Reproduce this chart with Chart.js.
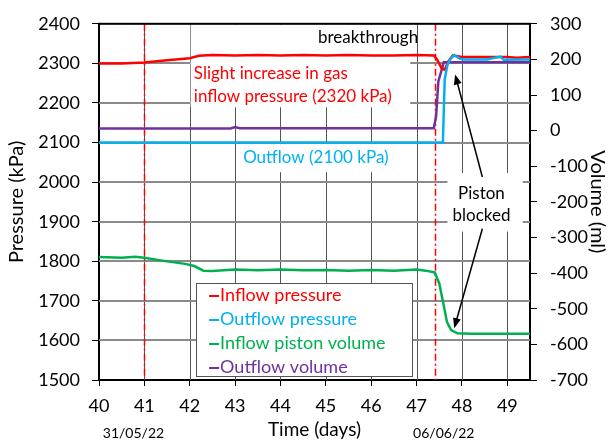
<!DOCTYPE html>
<html>
<head>
<meta charset="utf-8">
<script src="https://cdn.jsdelivr.net/npm/chart.js@4"></script>
<style>
    body { margin: 0; background: #fff; }
    canvas { display: block; }
</style>
</head>
<body>
<canvas id="pressureChart" width="609" height="442"></canvas>
<script>
// Inflow pressure (kPa)
let inflowDays = [40, 40.5, 41, 41.5, 42, 42.2, 42.5, 43, 43.5, 44, 44.5, 45, 45.5, 46, 46.5, 47, 47.38, 47.45, 47.55, 47.62, 47.7, 47.8, 48, 48.5, 49, 49.2, 49.5];
let inflowPressure = [2300, 2300, 2302, 2308, 2313, 2319, 2321, 2320, 2321, 2320, 2321, 2320, 2321, 2320, 2320, 2321, 2320, 2310, 2288, 2284, 2305, 2320, 2316, 2316, 2316, 2314, 2316];

// Outflow pressure (kPa)
let outflowDays = [40, 47.58, 47.62, 47.68, 47.75, 47.83, 47.95, 48.05, 48.55, 48.85, 48.92, 49.5];
let outflowPressure = [2100, 2100, 2260, 2296, 2312, 2321, 2312, 2310, 2310, 2317, 2309, 2310];

// Inflow piston volume (ml)
let pistonDays = [40, 40.5, 40.8, 41, 41.5, 41.9, 42.1, 42.3, 42.5, 43, 43.5, 44, 44.5, 45, 45.5, 46, 46.5, 47, 47.2, 47.4, 47.5, 47.59, 47.67, 47.76, 47.9, 48.2, 49.5];
let pistonVolume = [-355, -357, -354, -357, -367, -374, -380, -393, -394, -390, -392, -390, -392, -391, -393, -391, -393, -390, -393, -398, -429, -485, -537, -560, -569, -570, -570];

// Outflow volume (ml)
let outVolDays = [40, 42.9, 43, 43.1, 47.38, 47.43, 47.48, 47.6, 49.5];
let outflowVolume = [6, 6, 10, 7, 7, 40, 138, 192, 192];

let xTicks = [40, 41, 42, 43, 44, 45, 46, 47, 48, 49];
let gridKpa = [1600, 1700, 1800, 1900, 2000, 2100, 2200, 2300];
let markerDays = [41, 47.4];
let dateLabels = ["31/05/22", "06/06/22"];
let dateLabelDays = [40.76, 47.6];

let seriesNames = ["Inflow pressure", "Outflow pressure", "Inflow piston volume", "Outflow volume"];
let seriesColors = ["#ff0000", "#00b0f0", "#00b050", "#7030a0"];

const FONT = "Lato";
const GRID = "#555555";
const GRID_ROW = "#8a8a8a";

function pts(days, vals) {
    return days.map((d, i) => ({ x: d, y: vals[i] }));
}

function line(label, color, data, axis, order) {
    return {
        label: label,
        data: data,
        yAxisID: axis,
        borderColor: color,
        backgroundColor: color,
        borderWidth: 2.5,
        pointRadius: 0,
        tension: 0,
        fill: false,
        order: order
    };
}

// grid, text boxes, arrows, marker lines and the legend panel
const notes = {
    id: "notes",
    beforeDatasetsDraw(chart) {
        let ctx = chart.ctx;
        let area = chart.chartArea;
        let x = chart.scales.x, y = chart.scales.y;
        let px = d => x.getPixelForValue(d);
        let py = v => y.getPixelForValue(v);

        ctx.save();
        // grid at whole days and every 100 kPa
        ctx.fillStyle = GRID;
        xTicks.forEach(d => {
            if (d <= x.min) return;
            ctx.fillRect(Math.round(px(d)), area.top, 1, area.bottom - area.top);
        });
        ctx.fillStyle = GRID_ROW;
        gridKpa.forEach(v => {
            ctx.fillRect(area.left, Math.round(py(v)) - 1, area.right - area.left, 2);
        });

        // white backing boxes behind the notes
        ctx.fillStyle = "#fff";
        let boxes = [[42.02, 2398, 46.86, 2189], [43.1, 2096, 46.46, 2025], [47.68, 2023, 49.34, 1875]];
        boxes.forEach(b => {
            let bx = px(b[0]), by = py(b[1]);
            ctx.fillRect(bx, by, px(b[2]) - bx, py(b[3]) - by);
        });

        ctx.font = "17px " + FONT;
        ctx.textBaseline = "middle";
        ctx.textAlign = "center";
        ctx.fillStyle = "#000";
        ctx.fillText("breakthrough", px(45.93), py(2366));
        ctx.fillText("Piston", px(48.43), py(1970));
        ctx.fillText("blocked", px(48.43), py(1915));

        ctx.fillStyle = seriesColors[1];
        ctx.fillText("Outflow (2100 kPa)", px(44.78), py(2061));

        ctx.textAlign = "left";
        ctx.fillStyle = seriesColors[0];
        ctx.fillText("Slight increase in gas", px(42.09), py(2274));
        ctx.fillText("inflow pressure (2320 kPa)", px(42.09), py(2216));

        // dash-dot day markers
        ctx.strokeStyle = "#ff0000";
        ctx.lineWidth = 1.5;
        ctx.setLineDash([7, 3, 2, 3]);
        markerDays.forEach(d => {
            ctx.beginPath();
            ctx.moveTo(Math.round(px(d)) + 0.5, area.top);
            ctx.lineTo(Math.round(px(d)) + 0.5, area.bottom);
            ctx.stroke();
        });
        ctx.restore();
    },
    afterDatasetsDraw(chart) {
        let ctx = chart.ctx;
        let area = chart.chartArea;
        let x = chart.scales.x, y = chart.scales.y;
        let px = d => x.getPixelForValue(d);
        let py = v => y.getPixelForValue(v);

        ctx.save();
        // arrows from the "Piston blocked" note
        [[48.45, 2013, 47.85, 2272], [48.45, 1882, 47.83, 1631]].forEach(a => {
            let x1 = px(a[0]), y1 = py(a[1]), x2 = px(a[2]), y2 = py(a[3]);
            let ang = Math.atan2(y2 - y1, x2 - x1);
            ctx.strokeStyle = "#000";
            ctx.fillStyle = "#000";
            ctx.lineWidth = 1.5;
            ctx.beginPath();
            ctx.moveTo(x1, y1);
            ctx.lineTo(x2 - 8 * Math.cos(ang), y2 - 8 * Math.sin(ang));
            ctx.stroke();
            ctx.beginPath();
            ctx.moveTo(x2, y2);
            ctx.lineTo(x2 - 10 * Math.cos(ang) + 4 * Math.sin(ang), y2 - 10 * Math.sin(ang) - 4 * Math.cos(ang));
            ctx.lineTo(x2 - 10 * Math.cos(ang) - 4 * Math.sin(ang), y2 - 10 * Math.sin(ang) + 4 * Math.cos(ang));
            ctx.closePath();
            ctx.fill();
        });

        // legend panel
        let lx = px(42.14), ly = py(1744), lw = px(46.91) - lx, lh = py(1508) - ly;
        ctx.fillStyle = "#fff";
        ctx.fillRect(lx, ly, lw, lh);
        ctx.strokeStyle = "#555";
        ctx.lineWidth = 1;
        ctx.strokeRect(Math.round(lx) + 0.5, Math.round(ly) + 0.5, Math.round(lw), Math.round(lh));
        ctx.font = "18px " + FONT;
        ctx.textBaseline = "middle";
        ctx.textAlign = "left";
        seriesNames.forEach((name, i) => {
            let rowY = ly + 12 + i * 24;
            ctx.fillStyle = seriesColors[i];
            ctx.fillRect(lx + 13, Math.round(rowY), 10, 2);
            ctx.fillText(name, lx + 24, rowY);
        });

        // top edge of the plot frame
        ctx.fillStyle = "#000";
        ctx.fillRect(area.left - 1, area.top - 1, area.right - area.left + 2, 2);

        // calendar dates under the time axis
        ctx.font = "14px " + FONT;
        ctx.textAlign = "center";
        dateLabels.forEach((t, i) => ctx.fillText(t, px(dateLabelDays[i]), 433));
        ctx.restore();
    }
};

Chart.defaults.font.family = FONT;
Chart.defaults.color = "#000";

let ctx = document.getElementById("pressureChart").getContext("2d");
new Chart(ctx, {
    type: "line",
    data: {
        datasets: [
            line(seriesNames[0], seriesColors[0], pts(inflowDays, inflowPressure), "y", 1),
            line(seriesNames[1], seriesColors[1], pts(outflowDays, outflowPressure), "y", 0),
            line(seriesNames[2], seriesColors[2], pts(pistonDays, pistonVolume), "y2", 3),
            line(seriesNames[3], seriesColors[3], pts(outVolDays, outflowVolume), "y2", 2)
        ]
    },
    options: {
        responsive: false,
        animation: false,
        layout: { padding: { top: 22, left: 0, right: 0, bottom: 0 } },
        plugins: { legend: { display: false }, tooltip: { enabled: false } },
        scales: {
            x: {
                type: "linear",
                min: 40,
                max: 49.5,
                afterFit: s => { s.height = 62; },
                afterBuildTicks: s => { s.ticks = xTicks.map(v => ({ value: v })); },
                ticks: { font: { size: 18 }, padding: 9, maxRotation: 0 },
                grid: { drawOnChartArea: false, tickColor: "#000", tickLength: 6 },
                border: { color: "#000", width: 2 },
                title: { display: true, text: "Time (days)", font: { size: 19 }, padding: { top: 0, bottom: 1 } }
            },
            y: {
                position: "left",
                min: 1500,
                max: 2400,
                afterFit: s => { s.width = 99; },
                ticks: {
                    stepSize: 50,
                    font: { size: 18 },
                    padding: 12,
                    callback: v => (v % 100 === 0 ? v : "")
                },
                grid: { drawOnChartArea: false, tickColor: "#000", tickLength: 7 },
                border: { color: "#000", width: 2 },
                title: { display: true, text: "Pressure (kPa)", font: { size: 20 }, padding: { top: 5 } }
            },
            y2: {
                position: "right",
                min: -700,
                max: 300,
                afterFit: s => { s.width = 79; },
                ticks: { stepSize: 100, font: { size: 18 }, padding: 13 },
                grid: { drawOnChartArea: false, tickColor: "#000", tickLength: 7 },
                border: { color: "#000", width: 2 },
                title: { display: true, text: "Volume (ml)", font: { size: 20 }, padding: { top: 0 } }
            }
        }
    },
    plugins: [notes]
});
</script>
</body>
</html>
